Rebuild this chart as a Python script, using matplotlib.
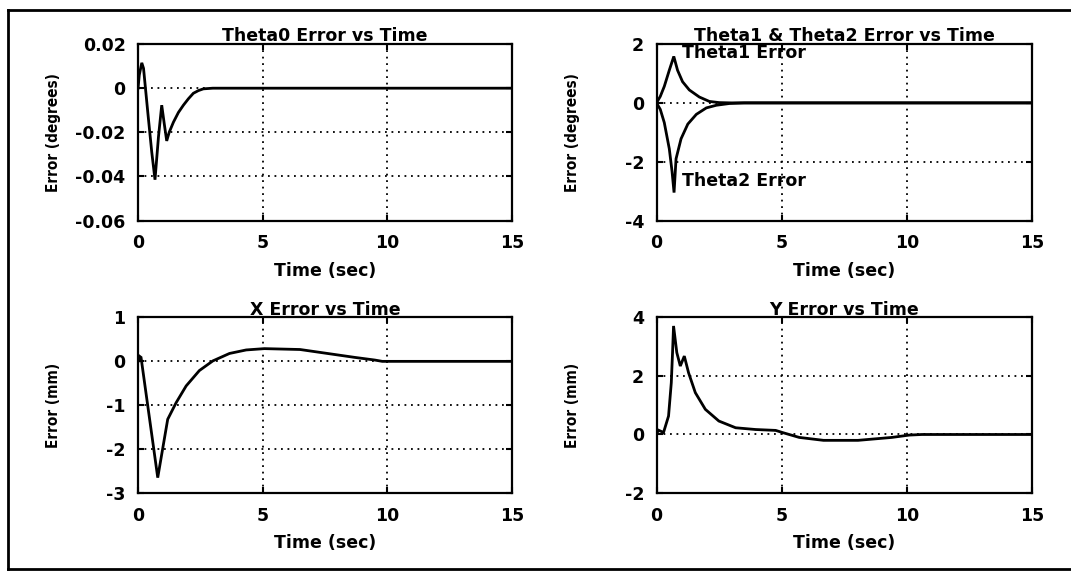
import matplotlib
matplotlib.use("Agg")
import matplotlib.pyplot as plt
from matplotlib.lines import Line2D

# ---------------- data ----------------
t_theta0 = [0, 0.05, 0.15, 0.22, 0.4, 0.55, 0.68, 0.82, 0.95, 1.05, 1.15, 1.25, 1.42,
            1.62, 1.82, 2.02, 2.22, 2.42, 2.62, 3.0, 15]
e_theta0 = [0, 0.006, 0.0115, 0.009, -0.012, -0.029, -0.0415, -0.022, -0.0077, -0.016,
            -0.0239, -0.020, -0.0154, -0.011, -0.0077, -0.0048, -0.0023, -0.0011, -0.0003, 0, 0]

t_theta1 = [0, 0.15, 0.31, 0.51, 0.69, 0.84, 1.04, 1.31, 1.71, 2.11, 2.5, 3.0, 15]
e_theta1 = [0, 0.22, 0.56, 1.11, 1.58, 1.11, 0.72, 0.44, 0.2, 0.05, 0.01, 0, 0]

t_theta2 = [0, 0.15, 0.31, 0.51, 0.62, 0.7, 0.78, 0.98, 1.25, 1.59, 1.99, 2.39, 2.92, 3.5, 15]
e_theta2 = [0, -0.22, -0.67, -1.56, -2.33, -3.05, -1.9, -1.22, -0.72, -0.39, -0.17, -0.08,
            -0.02, 0, 0]

t_x = [0, 0.05, 0.12, 0.79, 1.19, 1.53, 1.93, 2.46, 3.0, 3.67, 4.34, 5.07, 6.5, 7.6,
       8.7, 9.5, 9.8, 15]
e_x = [0, 0.12, 0.09, -2.65, -1.32, -0.94, -0.56, -0.21, 0.01, 0.18, 0.26, 0.29, 0.27,
       0.18, 0.09, 0.03, 0, 0]

t_y = [0, 0.07, 0.28, 0.48, 0.59, 0.64, 0.68, 0.81, 0.95, 1.11, 1.28, 1.55, 1.95, 2.49,
       3.16, 3.96, 4.76, 5.02, 5.7, 6.67, 8.05, 9.4, 10.1, 10.6, 15]
e_y = [0, 0.15, 0.07, 0.63, 1.77, 2.8, 3.71, 2.8, 2.34, 2.68, 2.11, 1.43, 0.86, 0.46,
       0.23, 0.17, 0.14, 0.07, -0.1, -0.2, -0.2, -0.1, -0.02, 0, 0]

x_ticks = [0, 5, 10, 15]
x_ticklabels = ["0", "5", "10", "15"]

theta0_yticks = [0.02, 0, -0.02, -0.04, -0.06]
theta0_yticklabels = ["0.02", "0", "-0.02", "-0.04", "-0.06"]
theta12_yticks = [2, 0, -2, -4]
theta12_yticklabels = ["2", "0", "-2", "-4"]
x_yticks = [1, 0, -1, -2, -3]
x_yticklabels = ["1", "0", "-1", "-2", "-3"]
y_yticks = [4, 2, 0, -2]
y_yticklabels = ["4", "2", "0", "-2"]

titles = ["Theta0 Error vs Time", "Theta1 & Theta2 Error vs Time",
          "X Error vs Time", "Y Error vs Time"]
ylabels = ["Error (degrees)", "Error (degrees)", "Error (mm)", "Error (mm)"]
xlabel = "Time (sec)"

# ---------------- style ----------------
plt.rcParams["font.family"] = ["DejaVu Sans"]
plt.rcParams["font.weight"] = "bold"
plt.rcParams["axes.unicode_minus"] = False

fig = plt.figure(figsize=(10.71, 5.71), dpi=100)
fig.patch.set_facecolor("white")

positions = [
    [0.1289, 0.6138, 0.3490, 0.3090],
    [0.6130, 0.6138, 0.3506, 0.3090],
    [0.1289, 0.1366, 0.3490, 0.3074],
    [0.6130, 0.1366, 0.3506, 0.3074],
]

grid_style = (0, (1, 2.6))


def style_axes(ax, yticks, yticklabels, ylim, title, ylabel):
    ax.set_xlim(0, 15)
    ax.set_ylim(*ylim)
    ax.set_xticks(x_ticks)
    ax.set_xticklabels(x_ticklabels)
    ax.set_yticks(yticks)
    ax.set_yticklabels(yticklabels)
    ax.tick_params(direction="in", length=4, width=1.5, top=True, right=True,
                   labelsize=12.5, pad=9)
    ax.tick_params(axis="x", pad=10)
    for sp in ax.spines.values():
        sp.set_linewidth(1.6)
        sp.set_color("black")
    ax.grid(True, color="black", linestyle=grid_style, linewidth=1.3)
    ax.set_title(title, fontsize=12.5, fontweight="bold", pad=2)
    ax.set_xlabel(xlabel, fontsize=12.5, fontweight="bold")
    ax.xaxis.set_label_coords(0.5, -0.235)
    ax.set_ylabel(ylabel, fontsize=11, fontweight="bold", fontstretch="condensed")
    ax.yaxis.set_label_coords(-0.205, 0.5)


line_kw = dict(color="black", linewidth=2.0, solid_joinstyle="miter")

ax1 = fig.add_axes(positions[0])
ax1.plot(t_theta0, e_theta0, **line_kw)
style_axes(ax1, theta0_yticks, theta0_yticklabels, (-0.06, 0.02), titles[0], ylabels[0])

ax2 = fig.add_axes(positions[1])
ax2.plot(t_theta1, e_theta1, **line_kw)
ax2.plot(t_theta2, e_theta2, **line_kw)
style_axes(ax2, theta12_yticks, theta12_yticklabels, (-4, 2), titles[1], ylabels[1])
ax2.text(1.0, 1.68, "Theta1 Error", fontsize=12.5, fontweight="bold", ha="left", va="center")
ax2.text(1.0, -2.67, "Theta2 Error", fontsize=12.5, fontweight="bold", ha="left", va="center")

ax3 = fig.add_axes(positions[2])
ax3.plot(t_x, e_x, **line_kw)
style_axes(ax3, x_yticks, x_yticklabels, (-3, 1), titles[2], ylabels[2])

ax4 = fig.add_axes(positions[3])
ax4.plot(t_y, e_y, **line_kw)
style_axes(ax4, y_yticks, y_yticklabels, (-2, 4), titles[3], ylabels[3])

# outer frame (right edge lies outside the picture)
frame_kw = dict(color="black", linewidth=2.0, transform=fig.transFigure)
fig.add_artist(Line2D([0.0079, 1.0], [0.9825, 0.9825], **frame_kw))
fig.add_artist(Line2D([0.0079, 0.0079], [0.0035, 0.9825], **frame_kw))
fig.add_artist(Line2D([0.0079, 1.0], [0.0035, 0.0035], **frame_kw))

fig.savefig("out.png", dpi=100, facecolor="white")
